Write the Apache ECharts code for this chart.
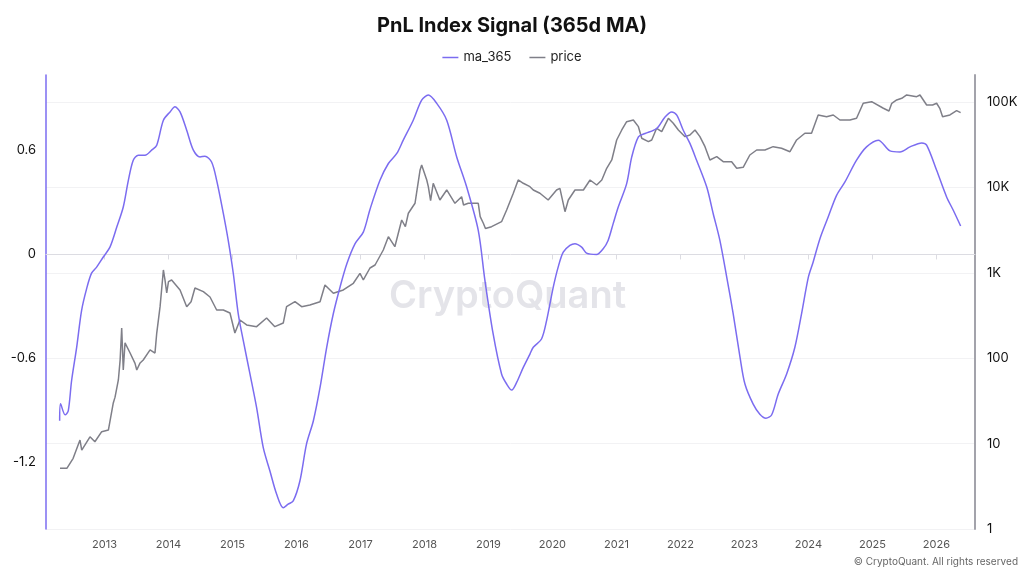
<!DOCTYPE html>
<html>
<head>
<meta charset="utf-8">
<title>PnL Index Signal (365d MA)</title>
<script src="https://cdn.jsdelivr.net/npm/echarts@6/dist/echarts.min.js"></script>
<style>
    html, body { margin: 0; padding: 0; background: #fff; }
    #main { width: 1024px; height: 578px; }
</style>
</head>
<body>
<div id="main"></div>
<script>
// ma_365 readings (date, value)
var maDates = ['2012-04-20', '2012-04-25', '2012-05-21', '2012-06-08', '2012-06-27', '2012-07-26', '2012-08-23', '2012-09-21',
    '2012-10-19', '2012-11-17', '2012-12-24', '2013-02-01', '2013-03-12', '2013-04-18', '2013-05-17', '2013-06-14',
    '2013-07-13', '2013-08-20', '2013-09-27', '2013-10-26', '2013-12-03', '2014-01-10', '2014-02-07', '2014-03-08',
    '2014-04-15', '2014-05-23', '2014-06-30', '2014-07-28', '2014-09-04', '2014-10-03', '2014-11-10', '2014-12-08',
    '2015-01-06', '2015-02-03', '2015-03-04', '2015-04-11', '2015-05-19', '2015-06-26', '2015-08-03', '2015-09-10',
    '2015-10-18', '2015-11-15', '2015-12-14', '2016-01-21', '2016-02-28', '2016-04-07', '2016-05-15', '2016-06-22',
    '2016-07-30', '2016-09-06', '2016-10-15', '2016-12-01', '2017-01-17', '2017-02-24', '2017-04-22', '2017-06-09',
    '2017-07-27', '2017-09-02', '2017-10-29', '2017-12-16', '2018-01-23', '2018-03-12', '2018-05-08', '2018-07-04',
    '2018-08-30', '2018-11-04', '2018-12-12', '2019-01-28', '2019-03-17', '2019-04-15', '2019-05-14', '2019-06-11',
    '2019-07-19', '2019-08-26', '2019-09-14', '2019-10-31', '2019-11-29', '2020-01-06', '2020-02-03', '2020-03-03',
    '2020-04-10', '2020-05-09', '2020-06-16', '2020-07-14', '2020-09-09', '2020-10-17', '2020-11-14', '2020-12-13',
    '2021-01-11', '2021-02-28', '2021-03-29', '2021-05-06', '2021-06-13', '2021-08-18', '2021-10-05', '2021-11-12',
    '2021-12-11', '2022-01-17', '2022-02-24', '2022-04-03', '2022-05-31', '2022-07-07', '2022-08-14', '2022-09-22',
    '2022-10-29', '2022-12-07', '2023-01-04', '2023-02-20', '2023-03-30', '2023-05-04', '2023-06-05', '2023-07-13',
    '2023-08-30', '2023-10-16', '2023-11-23', '2024-01-01', '2024-01-28', '2024-03-07', '2024-04-23', '2024-06-10',
    '2024-07-27', '2024-10-02', '2024-11-28', '2025-02-03', '2025-04-11', '2025-06-07', '2025-08-03', '2025-10-09',
    '2025-11-06', '2026-01-02', '2026-02-28', '2026-04-07', '2026-05-19'];
var maValues = [-0.96, -0.862, -0.926, -0.903, -0.729, -0.536, -0.324, -0.197,
    -0.108, -0.073, -0.016, 0.042, 0.158, 0.274, 0.428, 0.544,
    0.573, 0.573, 0.602, 0.631, 0.775, 0.823, 0.852, 0.823,
    0.717, 0.602, 0.563, 0.567, 0.534, 0.428, 0.237, 0.081,
    -0.110, -0.341, -0.498, -0.689, -0.884, -1.115, -1.250, -1.383,
    -1.462, -1.442, -1.423, -1.308, -1.094, -0.960, -0.768, -0.536,
    -0.341, -0.189, -0.054, 0.062, 0.129, 0.260, 0.428, 0.525,
    0.583, 0.660, 0.775, 0.891, 0.920, 0.872, 0.775, 0.563,
    0.389, 0.139, -0.150, -0.459, -0.690, -0.748, -0.783, -0.739,
    -0.652, -0.575, -0.536, -0.488, -0.382, -0.189, -0.073, 0.013,
    0.052, 0.062, 0.042, 0.008, 0.000, 0.033, 0.081, 0.178,
    0.274, 0.409, 0.563, 0.679, 0.698, 0.727, 0.794, 0.823,
    0.804, 0.717, 0.641, 0.544, 0.389, 0.235, 0.081, -0.131,
    -0.343, -0.594, -0.748, -0.864, -0.922, -0.945, -0.927, -0.806,
    -0.690, -0.536, -0.343, -0.131, -0.045, 0.091, 0.216, 0.341,
    0.417, 0.544, 0.621, 0.660, 0.598, 0.592, 0.621, 0.644,
    0.631, 0.486, 0.332, 0.255, 0.164];

// price readings (date, USD)
var priceDates = ['2012-04-22', '2012-05-31', '2012-07-06', '2012-08-14', '2012-08-24', '2012-10-10', '2012-11-07', '2012-12-16',
    '2013-01-23', '2013-02-20', '2013-03-02', '2013-03-21', '2013-03-31', '2013-04-09', '2013-04-18', '2013-04-28',
    '2013-05-27', '2013-06-24', '2013-07-04', '2013-07-23', '2013-08-10', '2013-09-18', '2013-10-16', '2013-10-26',
    '2013-11-14', '2013-12-03', '2013-12-12', '2013-12-22', '2014-01-01', '2014-01-19', '2014-03-08', '2014-04-15',
    '2014-05-10', '2014-06-01', '2014-07-19', '2014-08-26', '2014-10-03', '2014-11-10', '2014-12-18', '2015-01-15',
    '2015-02-13', '2015-03-23', '2015-05-19', '2015-07-15', '2015-08-31', '2015-10-18', '2015-11-06', '2015-12-24',
    '2016-01-31', '2016-03-18', '2016-05-15', '2016-06-12', '2016-07-30', '2016-09-25', '2016-11-21', '2016-12-29',
    '2017-01-17', '2017-02-24', '2017-03-25', '2017-05-11', '2017-06-09', '2017-07-16', '2017-08-24', '2017-09-14',
    '2017-10-01', '2017-11-08', '2017-12-07', '2017-12-16', '2018-01-14', '2018-01-23', '2018-02-05', '2018-02-20',
    '2018-03-02', '2018-03-30', '2018-05-08', '2018-06-24', '2018-08-01', '2018-08-12', '2018-09-08', '2018-11-04',
    '2018-11-15', '2018-12-03', '2018-12-15', '2019-01-19', '2019-03-17', '2019-04-15', '2019-05-23', '2019-06-20',
    '2019-07-19', '2019-08-26', '2019-09-14', '2019-10-22', '2019-12-08', '2020-01-25', '2020-02-13', '2020-03-13',
    '2020-04-01', '2020-05-09', '2020-06-26', '2020-08-03', '2020-09-10', '2020-10-09', '2020-11-06', '2020-12-05',
    '2021-01-02', '2021-01-31', '2021-02-28', '2021-04-07', '2021-05-06', '2021-05-25', '2021-07-02', '2021-07-21',
    '2021-08-18', '2021-09-16', '2021-10-24', '2021-11-21', '2021-12-20', '2022-01-27', '2022-02-24', '2022-03-25',
    '2022-04-22', '2022-05-21', '2022-06-18', '2022-07-27', '2022-09-02', '2022-10-20', '2022-11-18', '2022-12-25',
    '2023-02-01', '2023-03-12', '2023-04-28', '2023-06-14', '2023-08-01', '2023-09-18', '2023-10-26', '2023-12-12',
    '2024-01-19', '2024-02-26', '2024-04-14', '2024-05-22', '2024-06-29', '2024-08-25', '2024-10-02', '2024-11-09',
    '2024-12-27', '2025-03-04', '2025-04-05', '2025-04-21', '2025-05-19', '2025-06-17', '2025-07-15', '2025-09-10',
    '2025-09-29', '2025-11-06', '2025-12-10', '2026-01-02', '2026-01-20', '2026-02-05', '2026-03-19', '2026-04-26',
    '2026-05-19'];
var priceValues = [5.14, 5.14, 6.73, 11.0, 8.4, 12.0, 10.5, 13.8,
    14.4, 29.9, 35, 55.6, 95, 226, 72.8, 151,
    115, 87, 72.8, 88, 95.3, 125, 115, 197,
    401, 1079, 824, 580, 787, 824, 629, 401,
    459, 664, 601, 521, 367, 367, 338, 197,
    280, 245, 234, 296, 234, 258, 401, 459,
    401, 420, 459, 720, 575, 629, 754, 986,
    824, 1138, 1234, 1849, 2648, 2020, 4152, 3467,
    4975, 6514, 15990, 18290, 12210, 10200, 7000, 11170,
    11170, 7118, 9325, 6514, 7785, 6220, 6514, 6514,
    4540, 3800, 3300, 3467, 3967, 5436, 8530, 12210,
    11170, 10190, 9325, 8530, 7118, 9325, 9754, 5193,
    7118, 9325, 9325, 12210, 10670, 12210, 16740, 20940,
    35900, 47000, 58800, 61500, 51400, 37580, 34300, 35900,
    49200, 44900, 64400, 56300, 47000, 39260, 41100, 47000,
    39260, 29980, 20940, 22880, 20000, 20000, 16740, 17190,
    23950, 27400, 27400, 29980, 28700, 26180, 35900, 43000,
    43000, 70450, 67300, 70450, 61500, 61500, 64400, 96600,
    100800, 84400, 78500, 96600, 105500, 110500, 120800, 115400,
    120800, 92200, 92200, 96600, 84400, 67300, 70450, 79100,
    74900];

var leftTicks = [-1.2, -0.6, 0, 0.6];
var rightTicks = [1, 10, 100, 1000, 10000, 100000];

function pairs(dates, values) {
    var out = [];
    for (var i = 0; i < dates.length; i++) {
        out.push([dates[i], values[i]]);
    }
    return out;
}

function fmtPrice(v) {
    if (v >= 1000) {
        return Math.round(v / 1000) + 'K';
    }
    return String(Math.round(v));
}

var myChart = echarts.init(document.getElementById('main'));
var FONT = 'Inter, "Noto Sans", sans-serif';
var YEAR = 365 * 24 * 3600 * 1000;
var MA_COLOR = '#7b6cf0';
var PRICE_COLOR = '#7f7f88';

var option = {
    backgroundColor: '#fff',
    animation: false,
    textStyle: { fontFamily: FONT },
    title: {
        text: 'PnL Index Signal (365d MA)',
        left: 'center',
        top: 11,
        textStyle: { fontSize: 20, fontWeight: 'bold', color: '#111', fontFamily: FONT }
    },
    legend: {
        top: 46,
        left: 'center',
        icon: 'rect',
        itemWidth: 16,
        itemHeight: 1.5,
        itemGap: 18,
        textStyle: { fontSize: 13, color: '#222' },
        data: [
            { name: 'ma_365', itemStyle: { color: MA_COLOR } },
            { name: 'price', itemStyle: { color: PRICE_COLOR } }
        ]
    },
    grid: {
        left: 46,
        right: 49,
        top: 75,
        bottom: 49,
        containLabel: false
    },
    xAxis: {
        type: 'time',
        min: '2012-02-02',
        max: '2026-08-09',
        minInterval: YEAR,
        maxInterval: YEAR + 24 * 3600 * 1000,
        axisLine: { show: true, lineStyle: { color: '#dcdce2', width: 1 } },
        axisTick: { show: true, length: 5, lineStyle: { color: '#dcdce2' } },
        axisLabel: {
            formatter: '{yyyy}',
            color: '#555',
            fontSize: 11,
            margin: 10
        },
        splitLine: { show: false }
    },
    yAxis: [
        {
            type: 'value',
            position: 'left',
            min: -1.585,
            max: 1.036,
            axisLine: { show: true, lineStyle: { color: MA_COLOR, width: 1.5 } },
            axisTick: { show: false },
            axisLabel: {
                customValues: leftTicks,
                color: '#111',
                fontSize: 13,
                margin: 10
            },
            splitLine: { show: false }
        },
        {
            type: 'log',
            logBase: 10,
            position: 'right',
            min: 1,
            max: 207000,
            axisLine: { show: true, lineStyle: { color: '#a3a3ab', width: 2 } },
            axisTick: { show: false, customValues: rightTicks },
            axisLabel: {
                customValues: rightTicks,
                formatter: fmtPrice,
                color: '#111',
                fontSize: 13,
                margin: 12
            },
            splitLine: { show: true, lineStyle: { color: '#f2f2f4', width: 1 } }
        }
    ],
    graphic: [
        {
            type: 'text',
            left: 389,
            top: 278,
            z: -10,
            silent: true,
            style: {
                text: 'CryptoQuant',
                fontSize: 38,
                fontWeight: 600,
                fontFamily: FONT,
                fill: '#e4e4e9'
            }
        },
        {
            type: 'text',
            right: 6,
            top: 557,
            silent: true,
            style: {
                text: '\u00a9 CryptoQuant. All rights reserved',
                fontSize: 10,
                fontFamily: FONT,
                fill: '#666'
            }
        }
    ],
    series: [
        {
            name: 'ma_365',
            type: 'line',
            yAxisIndex: 0,
            showSymbol: false,
            smooth: 0.3,
            color: MA_COLOR,
            lineStyle: { width: 1.5, color: MA_COLOR },
            data: pairs(maDates, maValues),
            z: 3
        },
        {
            name: 'price',
            type: 'line',
            yAxisIndex: 1,
            showSymbol: false,
            color: PRICE_COLOR,
            lineStyle: { width: 1.5, color: PRICE_COLOR },
            data: pairs(priceDates, priceValues),
            z: 2
        }
    ]
};

myChart.setOption(option);
window.onresize = myChart.resize;
</script>
</body>
</html>
